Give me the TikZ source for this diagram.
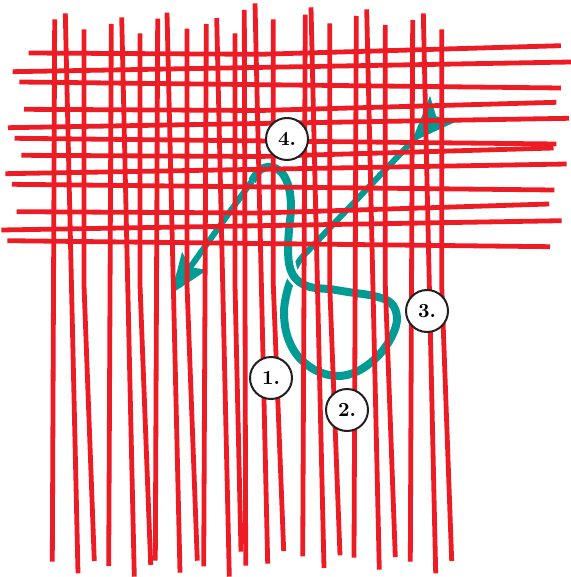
\documentclass[tikz,border=0pt]{standalone}
\usepackage{tikz}
\usetikzlibrary{arrows.meta}
\definecolor{threadred}{RGB}{237,28,36}
\definecolor{needleteal}{RGB}{0,155,149}
\definecolor{ringgray}{RGB}{35,31,32}
\tikzset{
  warp/.style={draw=threadred, line width=2.4pt},
  weft/.style={draw=threadred, line width=2.4pt},
  tealthread/.style={draw=needleteal, line width=4pt, line cap=butt},
  tealtail/.style={draw=needleteal, line width=3pt},
  crossover/.style={tealthread, preaction={draw=white, line width=6.6pt}},
  steplabel/.style={draw=ringgray, circle, line width=1pt, fill=white, minimum size=21pt, inner sep=0pt, font=\fontsize{10}{12}\selectfont\bfseries}
}

\begin{document}
\begin{tikzpicture}[x=0.5pt, y=-0.5pt]
  \useasboundingbox (0,0) rectangle (571,577);

  % teal thread, under strand first
  \draw[tealtail, {Stealth[reversed, length=23pt, width=18pt, inset=5pt]}-] (443,109) -- (305,254) .. controls (298,261) and (294,269) .. (292,277);
  \draw[tealthread] plot[smooth, tension=0.6] coordinates {(292,277) (287,292) (284,312) (287,335) (297,355) (315,370) (337,376) (358,371) (378,356) (392,336) (397,318) (391,303) (374,296) (348,292) (330,289)};
  \draw[crossover] plot[smooth, tension=0.6] coordinates {(330,289) (310,287) (297,280) (290,268) (288,250) (289,230) (291,208) (289,188) (282,173) (271,167) (260,170) (252,181)};
  \draw[tealtail, -{Stealth[length=20pt, width=15pt, inset=3.5pt]}] (252,181) -- (171,294);

  % warp threads
  \draw[warp] (54.7,19.3) -- (52.3,561.7);
  \draw[warp] (65.3,13.3) -- (78,573.3);
  \draw[warp] (84,29.3) -- (84,285) -- (94.3,561);
  \draw[warp] (111.3,24) -- (108.7,566);
  \draw[warp] (121.7,17.3) -- (134.3,576.7);
  \draw[warp] (140,33.3) -- (140,285) -- (150.7,565);
  \draw[warp] (157.7,18.7) -- (155.3,560.7);
  \draw[warp] (167,12.7) -- (180,572.7);
  \draw[warp] (187,28.7) -- (187,285) -- (197.3,560.7);
  \draw[warp] (206.3,24) -- (203.7,566.3);
  \draw[warp] (216.7,18) -- (229.3,576.7);
  \draw[warp] (235,33.3) -- (235,285) -- (241,551.7);
  \draw[warp] (244.3,10) -- (245.7,565.7);
  \draw[warp] (255,3.3) -- (267.7,563.7);
  \draw[warp] (273.3,19.3) -- (273.3,285) -- (283.7,551);
  \draw[warp] (305.3,14.7) -- (302.7,556.3);
  \draw[warp] (311,7.3) -- (324,568);
  \draw[warp] (329.7,23.3) -- (329.7,285) -- (340,555.3);
  \draw[warp] (356.3,16) -- (354,557.7);
  \draw[warp] (366.7,9.3) -- (379.3,569.7);
  \draw[warp] (385.3,25) -- (385.3,285) -- (395.3,557);
  \draw[warp] (412.7,20) -- (410.3,561.7);
  \draw[warp] (423.3,13.3) -- (435.7,573.3);
  \draw[warp] (441.7,29.3) -- (441.7,285) -- (451.7,561);

  % weft threads
  \draw[weft] (28.7,53) -- (260,54.3) -- (560.8,45.7);
  \draw[weft] (12.7,71.7) -- (571,62);
  \draw[weft] (19.3,82) -- (560.8,88);
  \draw[weft] (24,109.3) -- (260,110.5) -- (556.4,102.3);
  \draw[weft] (8,127.7) -- (568.8,118.3);
  \draw[weft] (14.7,138.3) -- (556.4,144);
  \draw[weft] (21.3,155.3) -- (260,156.5) -- (553.5,148);
  \draw[weft] (5.3,173.7) -- (566.7,164);
  \draw[weft] (12,184.3) -- (554.3,190);
  \draw[weft] (16.7,211.7) -- (260,213) -- (549.2,204);
  \draw[weft] (1.3,230) -- (561.6,220.7);
  \draw[weft] (7.3,240.7) -- (550,246.7);

  % step markers
  \node[steplabel] (st1) at (271,378) {1.};
  \node[steplabel] (st2) at (347,410) {2.};
  \node[steplabel] (st3) at (427,311) {3.};
  \node[steplabel] (st4) at (287,139) {4.};
\end{tikzpicture}
\end{document}
